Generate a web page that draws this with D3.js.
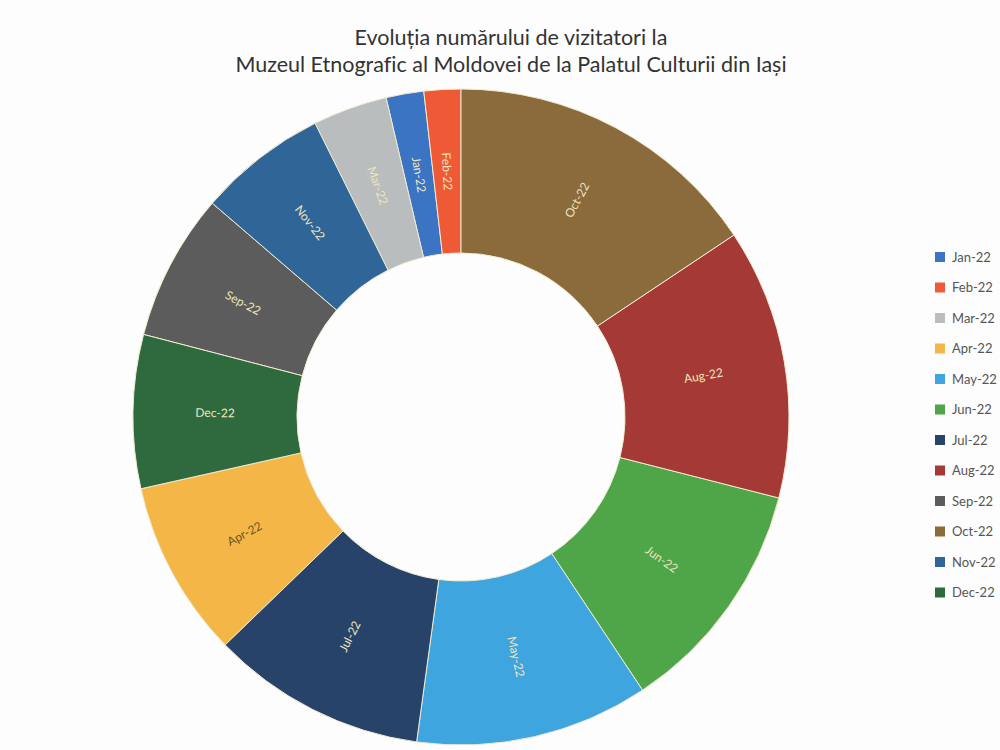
<!DOCTYPE html>
<html>
<head>
<meta charset="utf-8">
<script src="https://cdn.jsdelivr.net/npm/d3@7"></script>
<style>
  body { margin: 0; background: #fdfdfd; }
  svg { display: block; }
  text { font-variant-ligatures: none; }
</style>
</head>
<body>
<div id="chart"></div>
<script>
const width = 1000, height = 750;

// months in legend order
const months = ["Jan-22", "Feb-22", "Mar-22", "Apr-22", "May-22", "Jun-22",
                "Jul-22", "Aug-22", "Sep-22", "Oct-22", "Nov-22", "Dec-22"];
// visitors per month
const visitors = [1860, 1810, 3670, 8720, 11500, 11690, 10610, 13330, 7250, 15640, 6360, 7560];
// order the slices appear in, clockwise from 12 o'clock
const sliceOrder = ["Oct-22", "Aug-22", "Jun-22", "May-22", "Jul-22", "Apr-22",
                    "Dec-22", "Sep-22", "Nov-22", "Mar-22", "Jan-22", "Feb-22"];
const colors = ["#3a74c2", "#ee5a36", "#b9bdbd", "#f4b747", "#3ea5de", "#4fa649",
                "#27436a", "#a43936", "#5c5c5c", "#8b6a3b", "#2f6697", "#2f6a3f"];
const titleLines = ["Evoluția numărului de vizitatori la",
                    "Muzeul Etnografic al Moldovei de la Palatul Culturii din Iași"];

const cx = 461, cy = 417, outerR = 328, innerR = 164;

let svg = d3.select("#chart")
    .append("svg")
    .attr("width", width)
    .attr("height", height);

let color = d3.scaleOrdinal().domain(months).range(colors);

let data = months.map(function(m, i) { return {month: m, value: visitors[i]}; });

let pie = d3.pie()
    .value(function(d) { return d.value; })
    .sort(function(a, b) { return sliceOrder.indexOf(a.month) - sliceOrder.indexOf(b.month); });

let arc = d3.arc().innerRadius(innerR).outerRadius(outerR);

let g = svg.append("g")
    .attr("transform", `translate(${cx}, ${cy})`);

let arcs = pie(data);

g.selectAll("path")
    .data(arcs)
    .enter()
    .append("path")
    .attr("d", arc)
    .attr("fill", function(d) { return color(d.data.month); })
    .attr("stroke", "#f1ead0")
    .attr("stroke-width", 1);

// labels run along the radius
let midR = (innerR + outerR) / 2;
g.selectAll("text.slice")
    .data(arcs)
    .enter()
    .append("text")
    .attr("class", "slice")
    .attr("transform", function(d) {
        let a = (d.startAngle + d.endAngle) / 2;
        let x = midR * Math.sin(a), y = -midR * Math.cos(a);
        let rot = a * 180 / Math.PI - 90;
        if (rot > 90) rot -= 180;
        return `translate(${x}, ${y}) rotate(${rot})`;
    })
    .attr("text-anchor", "middle")
    .attr("dy", "0.35em")
    .style("font-family", "Lato, 'Open Sans', sans-serif")
    .style("font-size", "12px")
    .attr("fill", function(d) { return d.data.month === "Apr-22" ? "#6b5426" : "#eee3bd"; })
    .text(function(d) { return d.data.month; });

// title
svg.selectAll("text.title")
    .data(titleLines)
    .enter()
    .append("text")
    .attr("class", "title")
    .attr("x", 511)
    .attr("y", function(d, i) { return 45 + i * 27; })
    .attr("text-anchor", "middle")
    .style("font-family", "Lato, 'Open Sans', sans-serif")
    .style("font-size", "21.5px")
    .attr("fill", "#333")
    .text(function(d) { return d; });

// legend
let legend = svg.append("g").attr("transform", "translate(935, 257)");
let items = legend.selectAll("g")
    .data(months)
    .enter()
    .append("g")
    .attr("transform", function(d, i) { return `translate(0, ${i * 30.5})`; });

items.append("rect")
    .attr("x", 0).attr("y", -5)
    .attr("width", 10).attr("height", 10)
    .attr("fill", function(d) { return color(d); });

items.append("text")
    .attr("x", 17)
    .attr("dy", "0.35em")
    .style("font-family", "Lato, 'Open Sans', sans-serif")
    .style("font-size", "13px")
    .attr("fill", "#555")
    .text(function(d) { return d; });
</script>
</body>
</html>
